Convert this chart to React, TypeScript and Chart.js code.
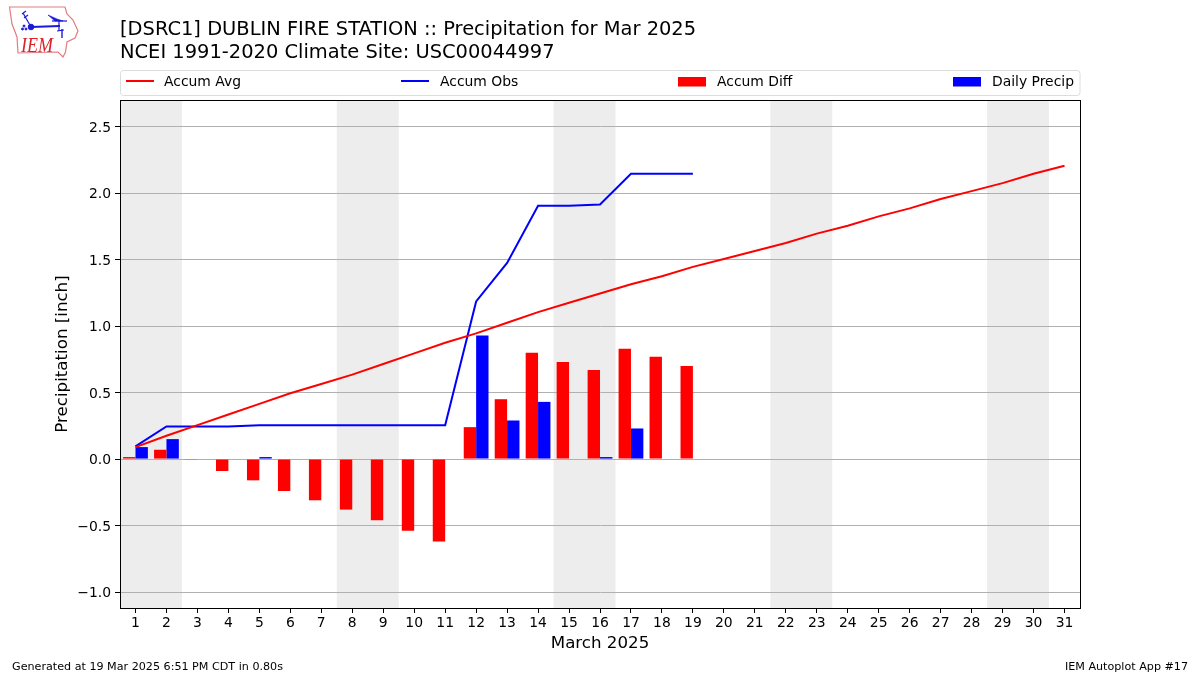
import React, { useEffect, useRef } from "react";
import { Chart, registerables } from "chart.js";

Chart.register(...registerables);

const days = Array.from({ length: 31 }, (_, i) => String(i + 1));
const accumAvg = [0.09, 0.175, 0.255, 0.335, 0.415, 0.495, 0.565, 0.635, 0.715, 0.795, 0.875, 0.945, 1.025, 1.105, 1.175, 1.245, 1.315, 1.375, 1.445, 1.505, 1.565, 1.625, 1.695, 1.755, 1.825, 1.885, 1.955, 2.015, 2.075, 2.145, 2.205];
const accumObs = [0.095, 0.245, 0.245, 0.245, 0.255, 0.255, 0.255, 0.255, 0.255, 0.255, 0.255, 1.185, 1.475, 1.905, 1.905, 1.915, 2.145, 2.145, 2.145];
const accumDiff = [0.015, 0.07, -0.005, -0.09, -0.16, -0.24, -0.31, -0.38, -0.46, -0.54, -0.62, 0.24, 0.45, 0.80, 0.73, 0.67, 0.83, 0.77, 0.70];
const dailyPrecip = [0.09, 0.15, 0, 0, 0.015, 0, 0, 0, 0, 0, 0, 0.93, 0.29, 0.43, 0, 0.015, 0.23, 0, 0];
const yTickValues = [-1, -0.5, 0, 0.5, 1, 1.5, 2, 2.5];
const weekendStarts = [1, 8, 15, 22, 29];
const titleLines = ["[DSRC1] DUBLIN FIRE STATION :: Precipitation for Mar 2025", "NCEI 1991-2020 Climate Site: USC00044997"];
const footerLeft = "Generated at 19 Mar 2025 6:51 PM CDT in 0.80s";
const footerRight = "IEM Autoplot App #17";
const xAxisLabel = "March 2025";
const yAxisLabel = "Precipitation [inch]";

const FONT = "'DejaVu Sans'";
const legendSlots = [
  { x: 126, tx: 164 },
  { x: 401, tx: 440 },
  { x: 678, tx: 717 },
  { x: 953, tx: 992 },
];

const decor = {
  id: "decor",
  beforeDraw(chart: any) {
    const { ctx, chartArea, scales } = chart;
    ctx.save();
    ctx.fillStyle = "#ededed";
    const x = scales.x;
    weekendStarts.forEach((d) => {
      const a = x.getPixelForValue(d - 1) - x.width / 31 / 2;
      const b = x.getPixelForValue(d) + x.width / 31 / 2;
      ctx.fillRect(a, chartArea.top, b - a, chartArea.bottom - chartArea.top);
    });
    ctx.restore();
  },
  afterDraw(chart: any) {
    const { ctx, chartArea } = chart;
    ctx.save();
    // frame
    ctx.strokeStyle = "#000";
    ctx.lineWidth = 1;
    ctx.strokeRect(chartArea.left + 0.5, chartArea.top + 0.5, chartArea.right - chartArea.left, chartArea.bottom - chartArea.top);

    // titles
    ctx.fillStyle = "#000";
    ctx.textBaseline = "alphabetic";
    ctx.textAlign = "left";
    ctx.font = `19.45px ${FONT}`;
    ctx.fillText(titleLines[0], 120, 35);
    ctx.fillText(titleLines[1], 120, 58);

    // legend box
    ctx.strokeStyle = "#dcdcdc";
    ctx.beginPath();
    ctx.roundRect(120.5, 70.5, 959.5, 25, 3);
    ctx.stroke();
    ctx.font = `13.9px ${FONT}`;
    const ordered = ["Accum Avg", "Accum Obs", "Accum Diff", "Daily Precip"].map((l) =>
      chart.data.datasets.find((d: any) => d.label === l)
    );
    ordered.forEach((ds: any, i: number) => {
      const s = legendSlots[i];
      if (ds.type === "line") {
        ctx.strokeStyle = ds.borderColor;
        ctx.lineWidth = 2;
        ctx.beginPath();
        ctx.moveTo(s.x, 81);
        ctx.lineTo(s.x + 28, 81);
        ctx.stroke();
      } else {
        ctx.fillStyle = ds.backgroundColor;
        ctx.fillRect(s.x, 77, 28, 9.5);
      }
      ctx.fillStyle = "#000";
      ctx.fillText(ds.label, s.tx, 86);
    });

    // footer
    ctx.font = `11.15px ${FONT}`;
    ctx.fillText(footerLeft, 12, 670);
    ctx.textAlign = "right";
    ctx.fillText(footerRight, 1188, 670);
    ctx.restore();
  },
};

function Logo() {
  return (
    <svg width={90} height={64} viewBox="0 0 90 64" style={{ position: "absolute", left: 0, top: 0 }}>
      <path
        d="M9.5 7 L65 7 L67 14 L73 20 L78 31 L75 38 L67 42 L65.5 52 L63 57 L58 52 L18 53 L17 37 L12 24 Z"
        fill="#fff"
        stroke="#e27c82"
        strokeWidth={1.2}
      />
      <g stroke="#1a1ad8" fill="#1a1ad8">
        <circle cx={31} cy={27} r={2.8} />
        <line x1={31} y1={27} x2={60} y2={26} strokeWidth={1.8} />
        <line x1={31} y1={27} x2={23} y2={13} strokeWidth={1.2} />
        <line x1={22} y1={14} x2={26} y2={11} strokeWidth={1.1} />
        <line x1={24} y1={18} x2={28} y2={15} strokeWidth={1.1} />
        <path d="M48 15 L57 19 L63 21 L55 21 Z" strokeWidth={0.6} />
        <line x1={52} y1={21} x2={67} y2={21} strokeWidth={1.2} />
        <line x1={59} y1={21} x2={59} y2={31} strokeWidth={1.2} />
        <line x1={57} y1={31} x2={64} y2={30} strokeWidth={1.2} />
        <line x1={62} y1={29} x2={62} y2={38} strokeWidth={1.4} />
        <circle cx={24} cy={26} r={1} />
        <circle cx={22.5} cy={29} r={1} />
        <circle cx={26} cy={29} r={1} />
      </g>
      <text x={21} y={52} fontFamily="'Liberation Serif'" fontStyle="italic" fontSize={22} textLength={32} lengthAdjust="spacingAndGlyphs" fill="#d8232a">
        IEM
      </text>
    </svg>
  );
}

export default function App() {
  const ref = useRef<HTMLCanvasElement>(null);
  useEffect(() => {
    const chart = new Chart(ref.current!, {
      type: "bar",
      data: {
        labels: days,
        datasets: [
          { type: "line", label: "Accum Avg", data: accumAvg, borderColor: "#ff0000", borderWidth: 2, pointRadius: 0, tension: 0, order: 0 },
          { type: "line", label: "Accum Obs", data: accumObs, borderColor: "#0000ff", borderWidth: 2, pointRadius: 0, tension: 0, order: 0 },
          { type: "bar", label: "Accum Diff", data: accumDiff, backgroundColor: "#ff0000", barPercentage: 1, categoryPercentage: 0.8, order: 1 },
          { type: "bar", label: "Daily Precip", data: dailyPrecip, backgroundColor: "#0000ff", barPercentage: 1, categoryPercentage: 0.8, order: 2 },
        ],
      } as any,
      options: {
        responsive: false,
        animation: false,
        layout: { padding: { left: 53, top: 100, right: 120, bottom: 0 } },
        plugins: { legend: { display: false }, title: { display: false }, tooltip: { enabled: false } },
        scales: {
          x: {
            type: "category",
            offset: true,
            grid: { display: true, offset: false, drawOnChartArea: false, drawTicks: true, tickLength: 5, tickColor: "#000" },
            border: { color: "#000", width: 1 },
            ticks: { color: "#000", font: { family: FONT, size: 13.9 }, padding: 2, maxRotation: 0, autoSkip: false },
            title: { display: true, text: xAxisLabel, color: "#000", font: { family: FONT, size: 16.67 }, padding: { top: 1, bottom: 21 } },
            afterFit: (s: any) => { s.height = 67; },
          },
          y: {
            min: -1.12,
            max: 2.7,
            grid: { color: "#b0b0b0", lineWidth: 1, drawTicks: true, tickLength: 5, tickColor: "#000" },
            border: { color: "#000", width: 1 },
            afterBuildTicks: (s: any) => { s.ticks = yTickValues.map((value) => ({ value })); },
            ticks: {
              color: "#000",
              font: { family: FONT, size: 13.9 },
              padding: 4,
              labelOffset: 1.5,
              callback: (v: any) => Number(v).toFixed(1).replace("-", "\u2212"),
            },
            title: { display: true, text: yAxisLabel, color: "#000", font: { family: FONT, size: 16.67 }, padding: { top: 0, bottom: 0 } },
            afterFit: (s: any) => { s.width = 67; },
          },
        },
      } as any,
      plugins: [decor],
    });
    return () => chart.destroy();
  }, []);
  return (
    <div style={{ position: "absolute", left: 0, top: 0, width: 1200, height: 675, background: "#fff" }}>
      <canvas ref={ref} width={1200} height={675} style={{ display: "block" }} />
      <Logo />
    </div>
  );
}
